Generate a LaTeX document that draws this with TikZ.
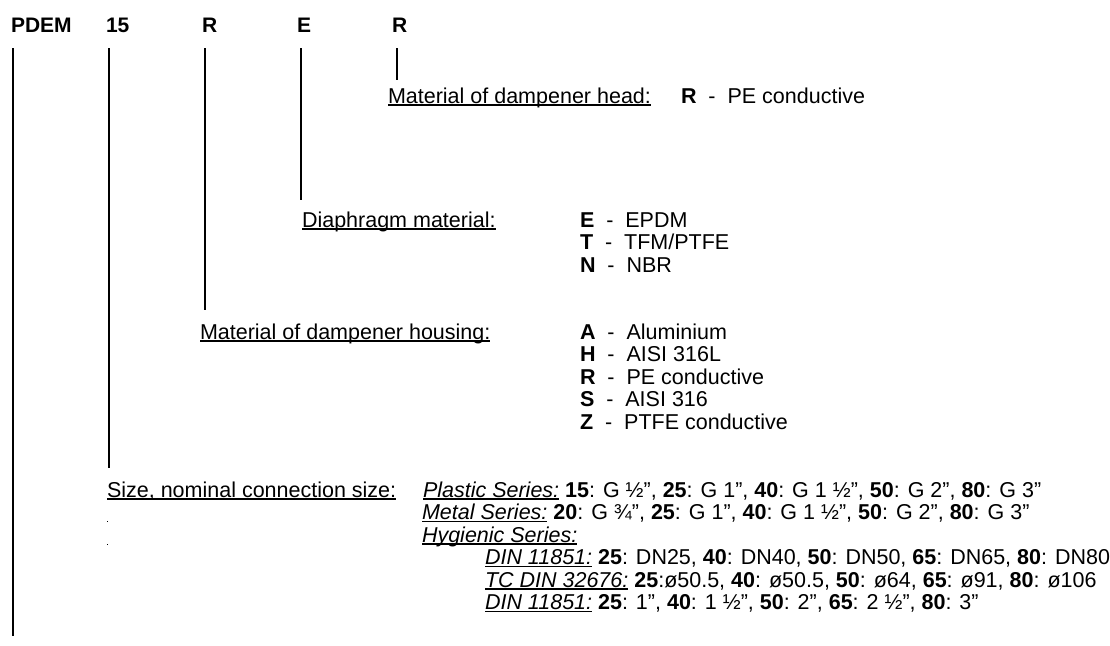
\documentclass[tikz,border=0pt]{standalone}
\usepackage{fontspec}
\setmainfont{Liberation Sans}
\newcommand{\ulx}[1]{\setbox0\hbox{#1}\rlap{\rule[-0.13em]{\wd0}{0.07em}}\box0\relax}
\begin{document}
\begin{tikzpicture}[x=1pt,y=-1pt,
  lab/.style={inner sep=0pt,outer sep=0pt,anchor=base west,font=\fontsize{21.5}{23}\selectfont},
  top/.style={lab,font=\fontsize{21}{23}\selectfont\bfseries},
  conn/.style={line width=1.5pt,black}]
\useasboundingbox (0,0) rectangle (1110,645);
% top code letters
\node[top] (tP) at (11,32) {PDEM};
\node[top] (t15) at (106,32) {15};
\node[top] (tR1) at (202,32) {R};
\node[top] (tE) at (297,32) {E};
\node[top] (tR2) at (392,32) {R};
% head
\node[lab] (head) at (388,103) {\ulx{Material of dampener head:}};
\node[lab] (headv) at (681,103) {\textbf{R}\ \ -\ \ PE conductive};
% diaphragm
\node[lab] (dia) at (302,227) {\ulx{Diaphragm material:}};
\node[lab] (d1) at (580,227) {\textbf{E}\ \ -\ \ EPDM};
\node[lab] (d2) at (580,249.5) {\textbf{T}\ \ -\ \ TFM/PTFE};
\node[lab] (d3) at (580,272) {\textbf{N}\ \ -\ \ NBR};
% housing
\node[lab] (hou) at (200,339) {\ulx{Material of dampener housing:}};
\node[lab] (h1) at (580,339) {\textbf{A}\ \ -\ \ Aluminium};
\node[lab] (h2) at (580,361.5) {\textbf{H}\ \ -\ \ AISI 316L};
\node[lab] (h3) at (580,384) {\textbf{R}\ \ -\ \ PE conductive};
\node[lab] (h4) at (580,406.5) {\textbf{S}\ \ -\ \ AISI 316};
\node[lab] (h5) at (580,429) {\textbf{Z}\ \ -\ \ PTFE conductive};
% size
\node[lab] (size) at (107,497) {\ulx{Size, nominal connection size:}};
\node[lab] (s1) at (423,497) {\ulx{\textit{Plastic Series:}} \textbf{15}: G ½”, \textbf{25}: G 1”, \textbf{40}: G 1 ½”, \textbf{50}: G 2”, \textbf{80}: G 3”};
\node[lab] (s2) at (422,519.5) {\ulx{\textit{Metal Series:}} \textbf{20}: G ¾”, \textbf{25}: G 1”, \textbf{40}: G 1 ½”, \textbf{50}: G 2”, \textbf{80}: G 3”};
\node[lab] (s3) at (422,542) {\ulx{\textit{Hygienic Series:}}};
\node[lab] (s4) at (485,564.5) {\ulx{\textit{DIN 11851:}} \textbf{25}: DN25, \textbf{40}: DN40, \textbf{50}: DN50, \textbf{65}: DN65, \textbf{80}: DN80};
\node[lab] (s5) at (485,587) {\ulx{\textit{TC DIN 32676:}} \textbf{25}:ø50.5, \textbf{40}: ø50.5, \textbf{50}: ø64, \textbf{65}: ø91, \textbf{80}: ø106};
\node[lab] (s6) at (485,609.5) {\ulx{\textit{DIN 11851:}} \textbf{25}: 1”, \textbf{40}: 1 ½”, \textbf{50}: 2”, \textbf{65}: 2 ½”, \textbf{80}: 3”};
% tiny marks
\fill (106.5,521) rectangle (107.7,522.2);
\fill (106.5,543.5) rectangle (107.7,544.7);
% connectors
\coordinate (pEnd) at (13,636);
\draw[conn] ([shift={(2,16)}]tP.base west) -- ([xshift=2pt]tP.base west |- pEnd);
\draw[conn] ([shift={(3,16)}]t15.base west) -- ([shift={(3,-29)}]t15.base west |- size.base);
\draw[conn] ([shift={(3,16)}]tR1.base west) -- ([shift={(3,-29)}]tR1.base west |- hou.base);
\draw[conn] ([shift={(4,16)}]tE.base west) -- ([shift={(4,-27)}]tE.base west |- dia.base);
\draw[conn] ([shift={(5,16)}]tR2.base west) -- ([shift={(5,-23)}]tR2.base west |- head.base);
\end{tikzpicture}
\end{document}
